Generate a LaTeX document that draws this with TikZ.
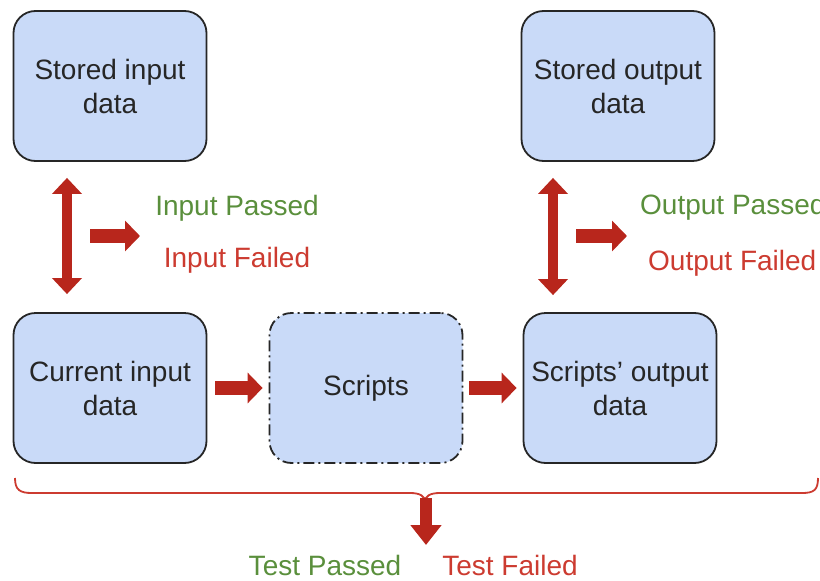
\documentclass[tikz,border=0pt]{standalone}
\usepackage{fontspec}
\setmainfont{Liberation Sans}
\usetikzlibrary{arrows.meta,calc}
\definecolor{boxfill}{HTML}{C9DAF8}
\definecolor{arrowred}{HTML}{B8261C}
\definecolor{passgreen}{HTML}{5A8F3C}
\definecolor{failred}{HTML}{CC3B30}
\begin{document}
\begin{tikzpicture}[x=1pt,y=-1pt,
  databox/.style={draw=black!85,line width=1.8pt,fill=boxfill,rounded corners=22pt,
    minimum width=193pt,minimum height=150pt,align=center,inner sep=0pt,
    font=\fontsize{28}{34}\selectfont,text=black!85},
  scriptbox/.style={databox,dash pattern=on 11pt off 4pt on 2pt off 4pt},
  dblarrow/.style={arrowred,line width=10pt,
    {Triangle[width=29pt,length=16pt]}-{Triangle[width=29pt,length=16pt]}},
  fwdarrow/.style={arrowred,line width=14pt,-{Triangle[width=30pt,length=15pt]}},
  label/.style={font=\fontsize{28}{34}\selectfont,inner sep=0pt},
  passlabel/.style={label,text=passgreen},
  faillabel/.style={label,text=failred}]
\useasboundingbox (0,0) rectangle (820,581);

% data boxes
\node[databox] (si) at (110,86) {Stored input\\data};
\node[databox] (so) at (618,86) {Stored output\\data};
\node[databox] (ci) at (110,388) {Current input\\data};
\node[scriptbox] (sc) at (366,388) {Scripts};
\node[databox] (sx) at (620,388) {Scripts’ output\\data};

% comparison of stored and current input
\draw[dblarrow] ([xshift=-43pt,yshift=-16pt]si.south) -- ([xshift=-43pt,yshift=18pt]ci.north);
\coordinate (ia) at (90,236);
\node[passlabel] (ip) at (237,208) {Input Passed};
\node[faillabel] (if) at (237,260) {Input Failed};
\draw[fwdarrow] (ia) -- (140,236);

% comparison of stored and produced output
\draw[dblarrow] ([xshift=-65pt,yshift=-16pt]so.south) -- ([xshift=-67pt,yshift=17pt]sx.north);
\coordinate (oa) at (576,236);
\node[passlabel,anchor=west] (op) at (640,207) {Output Passed};
\node[faillabel,anchor=west] (of) at (648,263) {Output Failed};
\draw[fwdarrow] (oa) -- ([xshift=-13pt]op.west |- oa);

% pipeline
\draw[fwdarrow] ([xshift=8pt]ci.east) -- ([xshift=-6pt]sc.west);
\draw[fwdarrow] ([xshift=6pt]sc.east) -- ([xshift=-6pt]sx.west);

% brace under the pipeline
\coordinate (bl) at (15,478);
\coordinate (br) at (818,478);
\draw[failred,line width=1.8pt]
  (bl) .. controls (15,490) and (20,493) .. (32,493)
  -- (410,493) .. controls (420,493) and (425,496) .. (425,502)
  .. controls (425,496) and (430,493) .. (440,493)
  -- (802,493) .. controls (814,493) and (818,490) .. (br);
\node[passlabel] (tp) at (325,565) {Test Passed};
\node[faillabel] (tf) at (510,565) {Test Failed};
\coordinate (ta) at (426,498);
\draw[arrowred,line width=12pt,-{Triangle[width=30pt,length=20pt]}] (ta) -- (426,545);
\end{tikzpicture}
\end{document}
